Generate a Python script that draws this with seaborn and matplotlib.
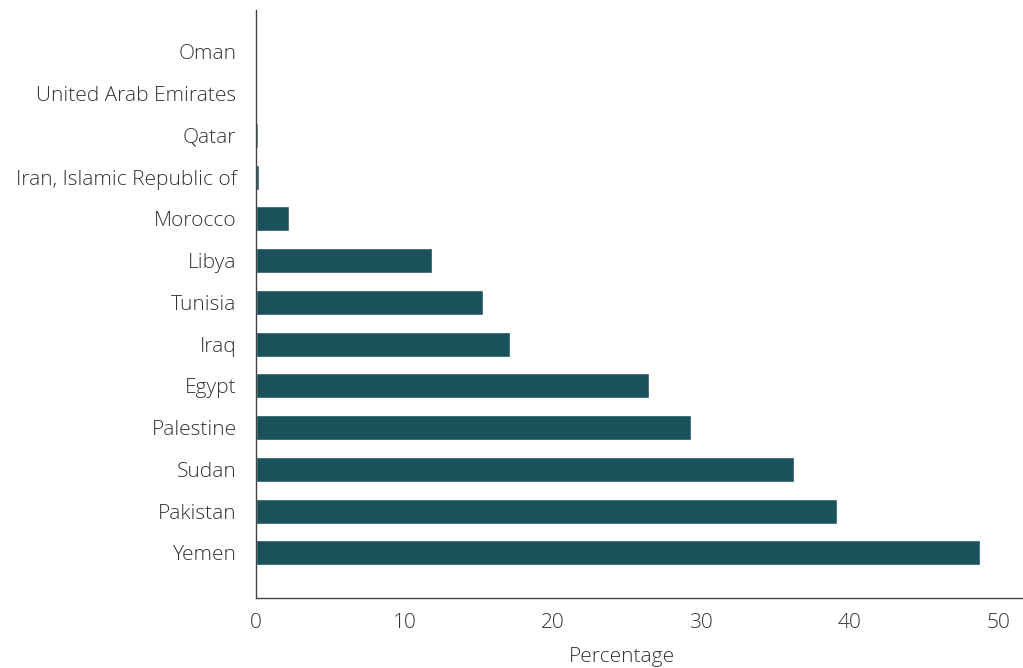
import matplotlib
matplotlib.use("Agg")
import matplotlib.pyplot as plt
import seaborn as sns
import pandas as pd

countries = ["Oman", "United Arab Emirates", "Qatar", "Iran, Islamic Republic of",
             "Morocco", "Libya", "Tunisia", "Iraq", "Egypt", "Palestine",
             "Sudan", "Pakistan", "Yemen"]
values = [0.0, 0.0, 0.15, 0.2, 2.2, 11.85, 15.3, 17.1, 26.5, 29.3, 36.25, 39.15, 48.8]

sns.set_theme(style="white")
plt.rcParams['font.family'] = ['Open Sans', 'DejaVu Sans']

df = pd.DataFrame({"country": countries, "value": values})

fig = plt.figure(figsize=(10.23, 6.68), dpi=100)
ax = fig.add_axes([0.2502, 0.1048, 0.7488, 0.8802])
sns.barplot(data=df, x="value", y="country", orient="h", color="#1a525c",
            saturation=1, width=0.6, ax=ax)

ax.set_xlim(0, 51.6)
ax.set_ylim(len(countries) - 1 + 1.08, -1.0)
ax.set_xticks([0, 10, 20, 30, 40, 50])
ax.set_xlabel("Percentage", fontsize=15, color="#333333", fontweight="light", labelpad=10)
ax.xaxis.label.set_x(0.478)
ax.set_ylabel("")
for lab in ax.get_xticklabels():
    lab.set_fontsize(15); lab.set_color("#333333"); lab.set_fontweight("light")
for lab in ax.get_yticklabels():
    lab.set_fontsize(15); lab.set_color("#333333"); lab.set_fontweight("light")
ax.tick_params(axis="x", length=8, width=0.8, color="#555555", direction="inout", pad=7)
ax.tick_params(axis="y", length=0, pad=14)
for s in ["top", "right"]:
    ax.spines[s].set_visible(False)
for s in ["left", "bottom"]:
    ax.spines[s].set_color("#444444")
    ax.spines[s].set_linewidth(1.0)

fig.savefig("out.png", dpi=100)
